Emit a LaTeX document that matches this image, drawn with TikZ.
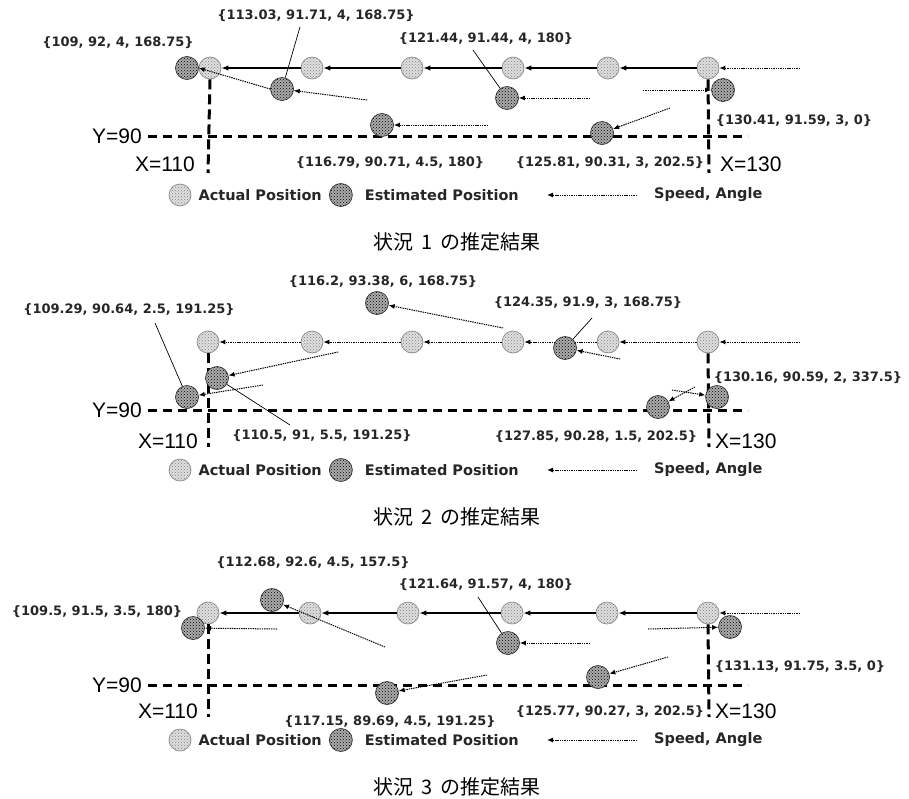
\documentclass[tikz,border=0pt]{standalone}
\usepackage{fontspec}
\setmainfont{Liberation Sans}
\newfontfamily\dvsans{DejaVu Sans}
\newfontfamily\jpfont{Noto Sans CJK JP}
\usepackage{tikz}
\usetikzlibrary{arrows.meta,patterns,positioning}

\tikzset{
  actpos/.style={circle, draw=gray!90, line width=0.7pt, minimum size=22pt, inner sep=0pt,
    preaction={fill=gray!25}, pattern=crosshatch dots, pattern color=gray},
  estpos/.style={circle, draw=black!80, line width=0.7pt, minimum size=23pt, inner sep=0pt,
    preaction={fill=gray!65}, pattern=crosshatch dots, pattern color=black},
  val/.style={font=\dvsans\bfseries\fontsize{13}{15}\selectfont, inner sep=0pt, text=black!85},
  legtext/.style={font=\dvsans\bfseries\fontsize{14.5}{17}\selectfont, inner sep=0pt, text=black!85},
  axlabel/.style={font=\fontsize{21}{24}\selectfont, inner sep=0pt},
  captext/.style={font=\jpfont\fontsize{20}{24}\selectfont, inner sep=0pt},
  move/.style={line width=1.4pt, -{Latex[length=7pt,width=5.5pt]}},
  spd/.style={line width=1pt, dash pattern=on 1.4pt off 0.9pt, -{Latex[length=6pt,width=5pt]}},
  leader/.style={line width=0.7pt},
  ydash/.style={line width=3pt, dash pattern=on 9pt off 6pt, shorten <=6pt},
  xdash/.style={line width=3pt, dash pattern=on 10pt off 5pt},
}

\begin{document}
\begin{tikzpicture}[x=1pt, y=-1pt]
  \useasboundingbox (0,0) rectangle (909,798);

  % situation 1
  \begin{scope}
    \node[axlabel, anchor=east] (p1yl) at (142,136) {Y=90};
    \coordinate (p1ye) at (748,136);
    \draw[ydash] (p1yl.east) -- (p1ye);
    \node[axlabel, anchor=east] (p1xl) at (195,164) {X=110};
    \node[axlabel, anchor=west] (p1xr) at (720,164) {X=130};

    \node[actpos] (p1a1) at (210,68) {};
    \node[actpos] (p1a2) at (312,68) {};
    \node[actpos] (p1a3) at (412,68) {};
    \node[actpos] (p1a4) at (513,68) {};
    \node[actpos] (p1a5) at (608,68) {};
    \node[actpos] (p1a6) at (708,68) {};
    \coordinate (p1in) at (800,68);
    \coordinate (p1xa) at (208,173);
    \coordinate (p1xb) at (709,173);
    \draw[xdash] (p1a1.south) -- (p1xa);
    \draw[xdash] (p1a6.south) -- (p1xb);

    \draw[spd] (p1in) -- (p1a6);
    \draw[move] (p1a6) -- (p1a5);
    \draw[move] (p1a5) -- (p1a4);
    \draw[move] (p1a4) -- (p1a3);
    \draw[move] (p1a3) -- (p1a2);
    \draw[move] (p1a2) -- (p1a1);

    \node[estpos] (p1e1) at (187,68) {};
    \node[estpos] (p1e2) at (282,89) {};
    \node[estpos] (p1e3) at (507,98) {};
    \node[estpos] (p1e4) at (382,125) {};
    \node[estpos] (p1e5) at (602,133) {};
    \node[estpos] (p1e6) at (723,90) {};

    \node[val] (p1v1) at (118,43) {\{109, 92, 4, 168.75\}};
    \node[val] (p1v2) at (316,16) {\{113.03, 91.71, 4, 168.75\}};
    \node[val] (p1v3) at (486,39) {\{121.44, 91.44, 4, 180\}};
    \node[val] (p1v4) at (390,163) {\{116.79, 90.71, 4.5, 180\}};
    \node[val] (p1v5) at (610,163) {\{125.81, 90.31, 3, 202.5\}};
    \node[val] (p1v6) at (794,121) {\{130.41, 91.59, 3, 0\}};

    \coordinate (p1k2) at (300,27);
    \coordinate (p1k3) at (473,50);
    \draw[leader] (p1k2) -- (p1e2);
    \draw[leader] (p1k3) -- (p1e3);

    \coordinate (p1s2) at (367,100);
    \coordinate (p1s3) at (590,98);
    \coordinate (p1s4) at (488,125);
    \coordinate (p1s5) at (670,108);
    \coordinate (p1s6) at (643,90);
    \draw[spd] (p1e2.west) -- (p1e1.east);
    \draw[spd] (p1s2) -- (p1e2);
    \draw[spd] (p1s3) -- (p1e3);
    \draw[spd] (p1s4) -- (p1e4);
    \draw[spd] (p1s5) -- (p1e5);
    \draw[spd] (p1s6) -- (p1e6);

    % legend
    \node[actpos] (p1la) at (180,195) {};
    \node[legtext, right=7pt of p1la] (p1lat) {Actual Position};
    \node[estpos, right=7pt of p1lat] (p1le) {};
    \node[legtext, right=12pt of p1le] (p1let) {Estimated Position};
    \coordinate[right=28pt of p1let] (p1lsb);
    \coordinate[right=90pt of p1lsb] (p1lsa);
    \draw[spd] (p1lsa) -- (p1lsb);
    \node[legtext, right=17pt of p1lsa] (p1lst) {Speed, Angle};

    \node[captext] (p1cap) at (457,242) {状況\hspace{8pt}1\hspace{8pt}の推定結果};
  \end{scope}

  % situation 2
  \begin{scope}[shift={(0,274)}]
    \node[axlabel, anchor=east] (p2yl) at (142,136) {Y=90};
    \coordinate (p2ye) at (748,136);
    \draw[ydash] (p2yl.east) -- (p2ye);
    \node[axlabel, anchor=east] (p2xl) at (198,167) {X=110};
    \node[axlabel, anchor=west] (p2xr) at (715,167) {X=130};

    \node[actpos] (p2a1) at (208,68) {};
    \node[actpos] (p2a2) at (312,68) {};
    \node[actpos] (p2a3) at (412,68) {};
    \node[actpos] (p2a4) at (513,68) {};
    \node[actpos] (p2a5) at (608,68) {};
    \node[actpos] (p2a6) at (708,68) {};
    \coordinate (p2in) at (800,68);
    \coordinate (p2xa) at (208,173);
    \coordinate (p2xb) at (709,173);
    \draw[xdash] (p2a1.south) -- (p2xa);
    \draw[xdash] (p2a6.south) -- (p2xb);

    \draw[spd] (p2in) -- (p2a6);
    \draw[spd] (p2a6) -- (p2a5);
    \draw[spd] (p2a5) -- (p2a4);
    \draw[spd] (p2a4) -- (p2a3);
    \draw[spd] (p2a3) -- (p2a2);
    \draw[spd] (p2a2) -- (p2a1);

    \node[estpos] (p2e1) at (377,29) {};
    \node[estpos] (p2e2) at (565,74) {};
    \node[estpos] (p2e3) at (187,123) {};
    \node[estpos] (p2e4) at (217,104) {};
    \node[estpos] (p2e5) at (717,123) {};
    \node[estpos] (p2e6) at (658,133) {};

    \node[val] (p2v1) at (383,8) {\{116.2, 93.38, 6, 168.75\}};
    \node[val] (p2v2) at (588,29) {\{124.35, 91.9, 3, 168.75\}};
    \node[val] (p2v3) at (129,36) {\{109.29, 90.64, 2.5, 191.25\}};
    \node[val] (p2v4) at (322,162) {\{110.5, 91, 5.5, 191.25\}};
    \node[val] (p2v5) at (808,104) {\{130.16, 90.59, 2, 337.5\}};
    \node[val] (p2v6) at (596,163) {\{127.85, 90.28, 1.5, 202.5\}};

    \coordinate (p2k2) at (592,44);
    \coordinate (p2k3) at (155,49);
    \coordinate (p2k4) at (290,151);
    \draw[leader] (p2k2) -- (p2e2);
    \draw[leader] (p2k3) -- (p2e3);
    \draw[leader] (p2k4) -- (p2e4);

    \coordinate (p2s1) at (503,54);
    \coordinate (p2s2) at (620,85);
    \coordinate (p2s3) at (263,111);
    \coordinate (p2s4) at (338,78);
    \coordinate (p2s5) at (672,116);
    \coordinate (p2s6) at (695,113);
    \draw[spd] (p2s1) -- (p2e1);
    \draw[spd] (p2s2) -- (p2e2);
    \draw[spd] (p2s3) -- (p2e3);
    \draw[spd] (p2s4) -- (p2e4);
    \draw[spd] (p2s5) -- (p2e5);
    \draw[spd] (p2s6) -- (p2e6);

    % legend
    \node[actpos] (p2la) at (180,196) {};
    \node[legtext, right=7pt of p2la] (p2lat) {Actual Position};
    \node[estpos, right=7pt of p2lat] (p2le) {};
    \node[legtext, right=12pt of p2le] (p2let) {Estimated Position};
    \coordinate[right=28pt of p2let] (p2lsb);
    \coordinate[right=90pt of p2lsb] (p2lsa);
    \draw[spd] (p2lsa) -- (p2lsb);
    \node[legtext, right=17pt of p2lsa] (p2lst) {Speed, Angle};

    \node[captext] (p2cap) at (457,243) {状況\hspace{8pt}2\hspace{8pt}の推定結果};
  \end{scope}

  % situation 3
  \begin{scope}[shift={(0,545)}]
    \node[axlabel, anchor=east] (p3yl) at (142,140) {Y=90};
    \coordinate (p3ye) at (748,140);
    \draw[ydash] (p3yl.east) -- (p3ye);
    \node[axlabel, anchor=east] (p3xl) at (198,166) {X=110};
    \node[axlabel, anchor=west] (p3xr) at (715,166) {X=130};

    \node[actpos] (p3a1) at (208,68) {};
    \node[actpos] (p3a2) at (310,68) {};
    \node[actpos] (p3a3) at (408,68) {};
    \node[actpos] (p3a4) at (512,68) {};
    \node[actpos] (p3a5) at (607,68) {};
    \node[actpos] (p3a6) at (708,68) {};
    \coordinate (p3in) at (800,68);
    \coordinate (p3xa) at (208,172);
    \coordinate (p3xb) at (709,172);
    \draw[xdash] (p3a1.south) -- (p3xa);
    \draw[xdash] (p3a6.south) -- (p3xb);

    \draw[spd] (p3in) -- (p3a6);
    \draw[move] (p3a6) -- (p3a5);
    \draw[move] (p3a5) -- (p3a4);
    \draw[move] (p3a4) -- (p3a3);
    \draw[move] (p3a3) -- (p3a2);
    \draw[move] (p3a2) -- (p3a1);

    \node[estpos] (p3e1) at (193,83) {};
    \node[estpos] (p3e2) at (272,55) {};
    \node[estpos] (p3e3) at (508,98) {};
    \node[estpos] (p3e4) at (387,148) {};
    \node[estpos] (p3e5) at (598,132) {};
    \node[estpos] (p3e6) at (730,82) {};

    \node[val] (p3v1) at (97,67) {\{109.5, 91.5, 3.5, 180\}};
    \node[val] (p3v2) at (313,18) {\{112.68, 92.6, 4.5, 157.5\}};
    \node[val] (p3v3) at (486,40) {\{121.64, 91.57, 4, 180\}};
    \node[val] (p3v4) at (390,177) {\{117.15, 89.69, 4.5, 191.25\}};
    \node[val] (p3v5) at (610,167) {\{125.77, 90.27, 3, 202.5\}};
    \node[val] (p3v6) at (800,122) {\{131.13, 91.75, 3.5, 0\}};

    \coordinate (p3k3) at (478,52);
    \draw[leader] (p3k3) -- (p3e3);

    \coordinate (p3s1) at (277,84);
    \coordinate (p3s2) at (385,102);
    \coordinate (p3s3) at (590,98);
    \coordinate (p3s4) at (487,130);
    \coordinate (p3s5) at (668,112);
    \coordinate (p3s6) at (648,84);
    \draw[spd] (p3s1) -- (p3e1);
    \draw[spd] (p3s2) -- (p3e2);
    \draw[spd] (p3s3) -- (p3e3);
    \draw[spd] (p3s4) -- (p3e4);
    \draw[spd] (p3s5) -- (p3e5);
    \draw[spd] (p3s6) -- (p3e6);

    % legend
    \node[actpos] (p3la) at (180,195) {};
    \node[legtext, right=7pt of p3la] (p3lat) {Actual Position};
    \node[estpos, right=7pt of p3lat] (p3le) {};
    \node[legtext, right=12pt of p3le] (p3let) {Estimated Position};
    \coordinate[right=28pt of p3let] (p3lsb);
    \coordinate[right=90pt of p3lsb] (p3lsa);
    \draw[spd] (p3lsa) -- (p3lsb);
    \node[legtext, right=17pt of p3lsa] (p3lst) {Speed, Angle};

    \node[captext] (p3cap) at (457,242) {状況\hspace{8pt}3\hspace{8pt}の推定結果};
  \end{scope}

\end{tikzpicture}
\end{document}
